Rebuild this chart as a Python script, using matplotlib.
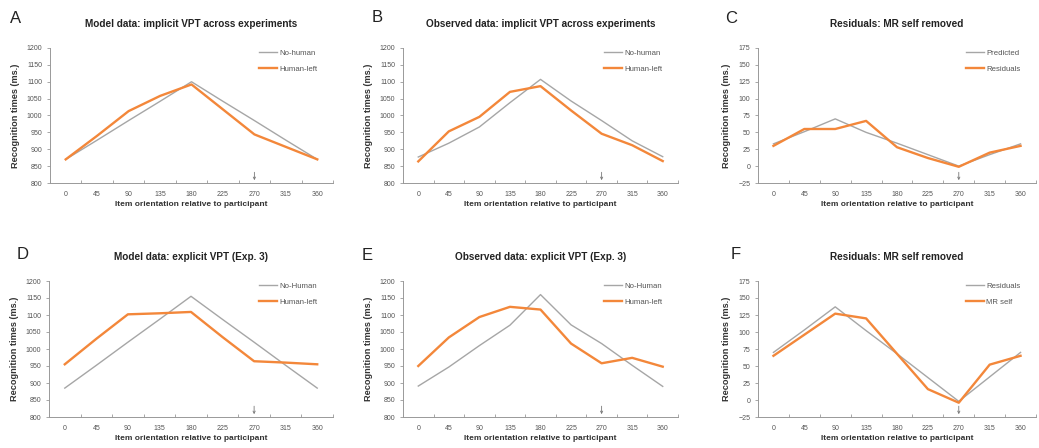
import matplotlib
matplotlib.use("Agg")
import matplotlib.pyplot as plt
import numpy as np

plt.rcParams['font.family'] = ['Liberation Sans', 'DejaVu Sans']

angles = [0, 45, 90, 135, 180, 225, 270, 315, 360]

# panel A: model data, implicit VPT
a_nohuman = [870, 927, 985, 1042, 1100, 1042, 985, 927, 870]
a_humanleft = [870, 940, 1013, 1058, 1092, 1018, 944, 907, 870]
# panel B: observed data, implicit VPT
b_nohuman = [877, 918, 966, 1038, 1107, 1043, 985, 925, 878]
b_humanleft = [864, 953, 996, 1070, 1087, 1015, 946, 912, 865]
# panel C: residuals
c_predicted = [33, 51, 70, 50, 34, 17, 0, 17, 33]
c_residuals = [30, 55, 55, 67, 28, 12, -1, 20, 30]
# panel D: model data, explicit VPT
d_nohuman = [885, 952, 1020, 1087, 1155, 1087, 1020, 952, 885]
d_humanleft = [955, 1030, 1102, 1105, 1109, 1035, 964, 960, 955]
# panel E: observed data, explicit VPT
e_nohuman = [891, 947, 1010, 1070, 1160, 1071, 1016, 952, 890]
e_humanleft = [950, 1034, 1094, 1124, 1116, 1016, 958, 974, 948]
# panel F: residuals
f_residuals = [70, 103, 137, 102, 68, 33, -2, 34, 70]
f_mrself = [65, 96, 127, 120, 68, 16, -4, 52, 65]

grey = '#a6a6a6'
orange = '#f3873a'

W, H = 1039, 448
fig = plt.figure(figsize=(W / 100, H / 100), dpi=100)

panels = [
    ('A', 'Model data: implicit VPT across experiments', a_nohuman, a_humanleft,
     ['No-human', 'Human-left'], (800, 1200, 50), (50, 48, 283, 135), (10, 26)),
    ('B', 'Observed data: implicit VPT across experiments', b_nohuman, b_humanleft,
     ['No-human', 'Human-left'], (800, 1200, 50), (403, 48, 275, 135), (372, 25)),
    ('C', 'Residuals: MR self removed', c_predicted, c_residuals,
     ['Predicted', 'Residuals'], (-25, 175, 25), (758, 48, 278, 135), (725, 26)),
    ('D', 'Model data: explicit VPT (Exp. 3)', d_nohuman, d_humanleft,
     ['No-Human', 'Human-left'], (800, 1200, 50), (49, 281, 284, 136), (17, 262)),
    ('E', 'Observed data: explicit VPT (Exp. 3)', e_nohuman, e_humanleft,
     ['No-Human', 'Human-left'], (800, 1200, 50), (403, 281, 275, 136), (362, 263)),
    ('F', 'Residuals: MR self removed', f_residuals, f_mrself,
     ['Residuals', 'MR self'], (-25, 175, 25), (758, 281, 278, 136), (731, 262)),
]

for letter, title, g, o, labels, (lo, hi, step), (px, py, pw, ph), (lx, ly) in panels:
    ax = fig.add_axes([px / W, 1 - (py + ph) / H, pw / W, ph / H])
    ax.plot(angles, g, color=grey, lw=1.0, label=labels[0])
    ax.plot(angles, o, color=orange, lw=1.7, label=labels[1])
    ax.set_xlim(-22.5, 382.5)
    ax.set_ylim(lo, hi)
    ax.set_xticks(angles)
    ax.set_xticks(np.arange(-22.5, 383, 45), minor=True)
    ax.set_yticks(np.arange(lo, hi + 1, step))
    ax.tick_params(axis='x', which='major', length=0, labelsize=5.0, colors='#555555', pad=6)
    ax.tick_params(axis='x', which='minor', length=2, direction='in', color='#999999', width=0.6)
    ax.tick_params(axis='y', length=2.5, width=0.6, color='#999999', labelsize=5.0,
                   colors='#555555', pad=3)
    for s in ['top', 'right']:
        ax.spines[s].set_visible(False)
    for s in ['left', 'bottom']:
        ax.spines[s].set_color('#999999')
        ax.spines[s].set_linewidth(0.7)
    ax.set_xlabel('Item orientation relative to participant', fontsize=6.0,
                  fontweight='bold', color='#333333', labelpad=2)
    ax.set_ylabel('Recognition times (ms.)', fontsize=6.6, fontweight='bold',
                  color='#333333', labelpad=5)
    ax.set_title(title, fontsize=7.2, fontweight='bold', color='#222222', pad=15)
    # marker at 270 degrees
    ax.annotate('', xy=(270, lo), xytext=(270, lo + (hi - lo) * 0.1),
                arrowprops=dict(arrowstyle='->', color='#777777', lw=0.6,
                                mutation_scale=4))
    leg = ax.legend(loc='upper right', frameon=False, fontsize=5.6, handlelength=2.3,
                    handletextpad=0.3, labelspacing=1.1, bbox_to_anchor=(0.97, 1.04))
    for t in leg.get_texts():
        t.set_color('#555555')
    fig.text(lx / W, 1 - ly / H, letter, fontsize=12, color='#222222',
             ha='left', va='bottom')

fig.savefig('out.png', dpi=100)
